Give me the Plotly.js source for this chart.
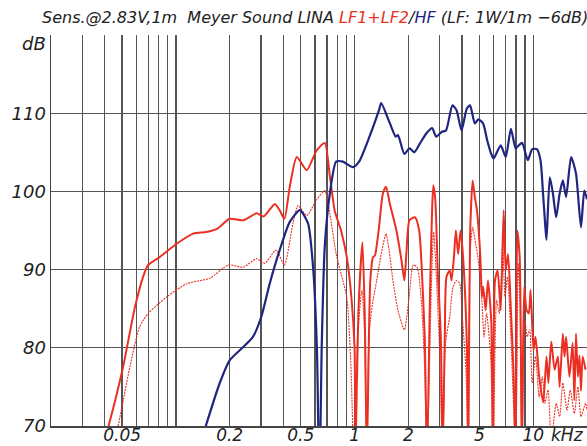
<!DOCTYPE html>
<html>
<head>
<meta charset="utf-8">
<script src="https://cdn.plot.ly/plotly-3.0.1.min.js"></script>
<style>
  html, body { margin: 0; padding: 0; background: #fff; }
  #chart { width: 587px; height: 446px; }
</style>
</head>
<body>
<div id="chart"></div>
<script>
// LF1+LF2 sensitivity (solid red), frequency in Hz / level in dB
var lfFreq = [42, 46, 50.7, 59, 65.6, 70, 81, 101, 125, 148, 170, 200, 238, 283, 310, 358, 381, 405, 434, 475, 540, 612, 681, 727, 775, 840, 905, 960, 1000, 1012,
  1050, 1107, 1140, 1172, 1225, 1270, 1300, 1370, 1440, 1500, 1577, 1715, 1830, 1900, 1950, 2030, 2180, 2300, 2370, 2470, 2545,
  2650, 2720, 2760, 2830, 2920, 3040, 3110, 3200, 3270, 3410, 3490, 3600, 3690, 3800, 3920, 4050, 4250, 4330,
  4430, 4580, 4710, 4840, 5050, 5170, 5250, 5420, 5580, 5820, 5960, 6110, 6320, 6580, 6830, 7020, 7230, 7500, 7750, 7980,
  8150, 8400, 8640, 8900, 9180, 9450, 9670, 10040, 10300, 10800, 11380, 11870, 12150, 12620, 13180, 13740, 14050, 14650, 14970,
  15280, 15950, 16620, 17000, 17350, 17780, 18150, 18510, 18920, 19630, 20000];
var lfDb = [70, 73.5, 77.6, 85.2, 89.1, 90.6, 91.6, 93.3, 94.6, 94.8, 95.2, 96.5, 96.3, 97.2, 96.8, 98.4, 97.6, 96.5, 100.6, 104.4, 102.7, 105.2, 106.2, 102, 97.5, 95, 91.6, 86.5, 80.1, 66,
  84.4, 93.5, 84.4, 66, 88.6, 91.6, 91.8, 95.4, 99.7, 100.6, 98.4, 95, 91.2, 88.6, 92, 96.3, 96.7, 95, 90.8, 81.4, 66,
  88, 98, 100.8, 99, 90, 81.4, 66, 81.4, 89.1, 89.9, 88.6, 91.6, 95, 92, 95, 91.6, 80.6, 66,
  94.2, 101.4, 99.3, 97.6, 92, 86.5, 87.8, 84.8, 88.6, 83.5, 66, 88.6, 89.9, 84.8, 97.6, 89.9, 92, 84.8, 77.2, 66,
  95, 91.6, 66, 87.8, 84.8, 84.4, 87.4, 79.7, 81.4, 76.3, 73, 78.9, 75.5, 80.8, 77.2, 78.9, 75, 81.8,
  78.9, 81.4, 76.3, 80.6, 73.3, 81.8, 76.3, 79, 74.5, 78.9, 77.2];

// LF1+LF2 at reduced drive (dotted red)
var lfLowFreq = [47.5, 51, 55.3, 62.7, 70, 88.8, 115, 155, 197, 238, 283, 314, 364, 405, 452, 483, 540, 612, 681, 727, 789, 860, 905, 950, 993,
  1040, 1100, 1140, 1168, 1210, 1270, 1330, 1410, 1500, 1560, 1640, 1750, 1900, 2020, 2130, 2240, 2370, 2470, 2545,
  2690, 2770, 2860, 3000, 3110, 3230, 3410, 3560, 3720, 3880, 4010, 4200, 4330,
  4430, 4580, 4760, 4930, 5170, 5310, 5480, 5780, 5960, 6240, 6460, 6750, 6950, 7180, 7500, 7750, 7980,
  8240, 8450, 8640, 8990, 9250, 9560, 9870, 10300, 10800, 11250, 11620, 12110, 12630, 13440, 14050, 14650, 15460, 16120, 17000,
  17780, 18510, 19630, 20000];
var lfLowDb = [70, 73.5, 77.6, 82.7, 84.4, 86.5, 88.2, 88.9, 90.6, 90.3, 91.4, 90.8, 92.5, 90.6, 95.9, 98.2, 96.9, 98.9, 100.1, 97.2, 92, 88.6, 86.5, 78.9, 66,
  81.4, 87.4, 81.4, 66, 82.3, 86.1, 88.6, 92, 94.6, 92.5, 88.6, 84.8, 82.3, 86.5, 90.6, 90.3, 85.7, 77.2, 66,
  87.8, 94.8, 89.9, 78.9, 66, 80.6, 84, 87.8, 88.6, 88.2, 84, 77.2, 66,
  92, 95.4, 93.3, 91.2, 85.7, 81.4, 84.4, 78.9, 66, 86.1, 84.4, 93.3, 86.5, 89.1, 81.4, 72.9, 66,
  90.8, 85.7, 66, 83.5, 81.4, 82.3, 75.5, 78.9, 73.7, 76.3, 72.9, 74.6, 68, 72.9, 71.2, 75.5, 72, 74.6, 71.6,
  75, 71.2, 72.9, 72];

// HF sensitivity (navy)
var hfFreq = [147, 176, 200, 238, 270, 301, 335, 381, 434, 494, 549, 586, 616, 636, 655, 681, 727, 789, 860, 980, 1060, 1212, 1370, 1410,
  1577, 1700, 1750, 1900, 2030, 2160, 2320, 2520, 2720, 2860, 3070, 3250, 3530, 3720, 3970, 4250, 4430, 4710, 4930, 5240,
  5530, 5780, 6000, 6580, 7020, 7500, 7980, 8310, 8670, 9330, 9870, 10480, 10980, 11380, 11700, 11870, 12380, 12900, 13440,
  14050, 14650, 15280, 16290, 17350, 18510, 19310, 20000];
var hfDb = [70, 75.5, 78.4, 80.1, 81.4, 84, 88.2, 92.5, 96.1, 97.6, 95.9, 90.3, 79.7, 62, 80.1, 92.9, 99.7, 103.8, 103.8, 103.1, 103.8, 107, 110.4, 111.3,
  108.7, 107, 107.2, 104.8, 105.5, 105, 106.1, 107.4, 108.1, 107, 107.6, 107.8, 111, 110.4, 107.8, 110.6, 111, 108.7, 109.2, 108.7,
  106.5, 105, 104.2, 105.9, 104.4, 108, 105.5, 105.9, 106.2, 104, 105.4, 105.4, 104, 99.3, 95.4, 93.8, 101.8, 99.7, 96.7,
  99.7, 101.4, 99.3, 104.4, 102.3, 95.4, 100.1, 99];

// axis grid and labels (x in Hz, labels in kHz)
var gridFreqs = [20, 30, 40, 50, 60, 70, 80, 90, 100, 200, 300, 400, 500, 600, 700, 800, 900,
  1000, 2000, 3000, 4000, 5000, 6000, 7000, 8000, 9000, 10000, 20000];
var gridLabels = ['', '', '', '0.05', '', '', '', '', '', '0.2', '', '', '0.5', '', '', '', '',
  '1', '2', '', '', '5', '', '', '', '', '10', ''];
var dbTicks = [70, 80, 90, 100, 110, 120];
var dbLabels = ['70', '80', '90', '100', '110', ''];

var RED = '#ec2f23';
var NAVY = '#1f2580';

var traces = [
  { x: lfLowFreq, y: lfLowDb, mode: 'lines', name: 'LF1+LF2 (1W)',
    line: { color: RED, width: 1.1, dash: '2px,1px', shape: 'spline', smoothing: 0.6 } },
  { x: lfFreq, y: lfDb, mode: 'lines', name: 'LF1+LF2',
    line: { color: RED, width: 2, shape: 'spline', smoothing: 0.6 } },
  { x: hfFreq, y: hfDb, mode: 'lines', name: 'HF',
    line: { color: NAVY, width: 2.2, shape: 'spline', smoothing: 0.6 } }
];

var tickFont = { family: 'DejaVu Sans', size: 18, style: 'italic', color: '#222' };
var xTickFont = { family: 'DejaVu Sans', size: 17, style: 'italic', color: '#222' };

var layout = {
  width: 587, height: 446,
  margin: { l: 51, r: 0, t: 35, b: 20 },
  paper_bgcolor: '#fff', plot_bgcolor: '#fff',
  showlegend: false,
  title: {
    text: 'Sens.@2.83V,1m  Meyer Sound LINA <span style="color:' + RED + '">LF1+LF2</span>/<span style="color:' + NAVY + '">HF</span> (LF: 1W/1m \u22126dB)',
    font: { family: 'DejaVu Sans', size: 16, style: 'italic', color: '#222' },
    x: 42 / 587, xanchor: 'left', xref: 'container',
    y: 1 - 17 / 446, yanchor: 'middle', yref: 'container'
  },
  xaxis: {
    type: 'log', range: [Math.log10(20), Math.log10(20000)],
    tickmode: 'array', tickvals: gridFreqs, ticktext: gridLabels,
    showgrid: true, gridcolor: '#555', gridwidth: 1.3,
    zeroline: false, showline: true, linecolor: '#444', linewidth: 1.5,
    ticks: '', tickfont: xTickFont, ticklabelstandoff: -7
  },
  yaxis: {
    range: [70, 120], tickmode: 'array', tickvals: dbTicks, ticktext: dbLabels,
    showgrid: true, gridcolor: '#555', gridwidth: 1.3,
    zeroline: false, showline: true, linecolor: '#444', linewidth: 1.5,
    ticks: '', tickfont: tickFont
  },
  annotations: [
    { text: 'dB', xref: 'paper', yref: 'paper', x: (34 - 51) / 536, y: (426 - 44) / 391,
      showarrow: false, font: tickFont, xanchor: 'center', yanchor: 'middle' },
    { text: 'kHz', xref: 'paper', yref: 'paper', x: (567 - 51) / 536, y: (426 - 435) / 391,
      showarrow: false, font: xTickFont, xanchor: 'center', yanchor: 'middle' }
  ]
};

Plotly.newPlot('chart', traces, layout, { staticPlot: true, displayModeBar: false });
</script>
</body>
</html>
